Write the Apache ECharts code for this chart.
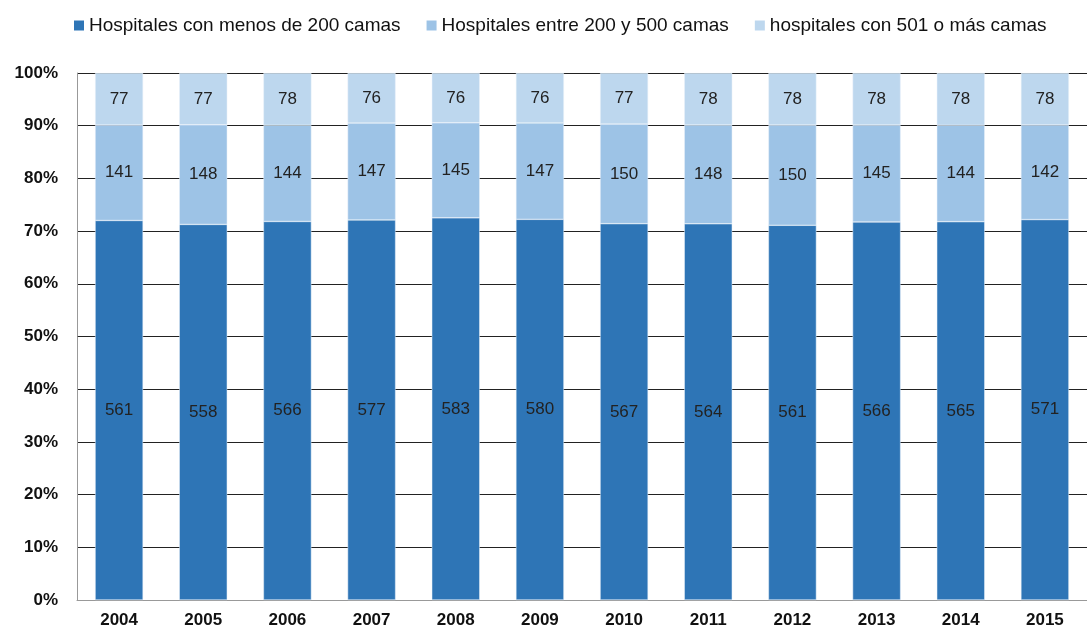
<!DOCTYPE html>
<html>
<head>
<meta charset="utf-8">
<script src="https://cdn.jsdelivr.net/npm/echarts@6/dist/echarts.min.js"></script>
<style>
  html, body { margin: 0; padding: 0; background: #fff; }
  #main { width: 1087px; height: 632px; }
</style>
</head>
<body>
<div id="main"></div>
<script>
var years = ['2004','2005','2006','2007','2008','2009','2010','2011','2012','2013','2014','2015'];
var menos200 = [561, 558, 566, 577, 583, 580, 567, 564, 561, 566, 565, 571];
var entre200y500 = [141, 148, 144, 147, 145, 147, 150, 148, 150, 145, 144, 142];
var mas501 = [77, 77, 78, 76, 76, 76, 77, 78, 78, 78, 78, 78];
var yTicks = ['0%','10%','20%','30%','40%','50%','60%','70%','80%','90%','100%'];

var names = ['Hospitales con menos de 200 camas', 'Hospitales entre 200 y 500 camas', 'hospitales con 501 o más camas'];
var colors = ['#2e75b6', '#9dc3e6', '#bdd7ee'];
var raw = [menos200, entre200y500, mas501];

// porcentaje de cada año
function pct(arr) {
    var out = [];
    for (var i = 0; i < years.length; i++) {
        var tot = menos200[i] + entre200y500[i] + mas501[i];
        out.push({ value: arr[i] / tot * 100, raw: arr[i] });
    }
    return out;
}

var series = [];
for (var s = 0; s < 3; s++) {
    series.push({
        name: names[s],
        type: 'bar',
        stack: 'total',
        barWidth: '57%',
        data: pct(raw[s]),
        itemStyle: { color: colors[s], borderColor: '#e8f0f8', borderWidth: 0.5 },
        label: {
            show: true,
            position: 'inside',
            color: '#222',
            fontSize: 17,
            fontFamily: 'Liberation Sans',
            formatter: function (p) { return p.data.raw; }
        }
    });
}

var myChart = echarts.init(document.getElementById('main'));
myChart.setOption({
    animation: false,
    textStyle: { fontFamily: 'Liberation Sans' },
    legend: {
        left: 69,
        top: 11,
        itemWidth: 10,
        itemHeight: 10,
        itemGap: 26,
        icon: 'rect',
        itemStyle: { borderWidth: 0 },
        textStyle: { fontSize: 19, color: '#111', fontFamily: 'Liberation Sans' }
    },
    grid: { left: 77, right: 0, top: 73, bottom: 32 },
    xAxis: {
        type: 'category',
        data: years,
        axisTick: { show: false },
        axisLine: { lineStyle: { color: '#999' } },
        axisLabel: { fontSize: 17, fontWeight: 'bold', color: '#111', margin: 12 }
    },
    yAxis: {
        type: 'value',
        min: 0,
        max: 100,
        interval: 10,
        axisLine: { show: true, lineStyle: { color: '#999' } },
        axisTick: { show: false },
        axisLabel: {
            fontSize: 17, fontWeight: 'bold', color: '#111', margin: 19,
            formatter: function (v) { return yTicks[Math.round(v / 10)]; }
        },
        splitLine: { lineStyle: { color: '#222', width: 1 } }
    },
    series: series
});
</script>
</body>
</html>
